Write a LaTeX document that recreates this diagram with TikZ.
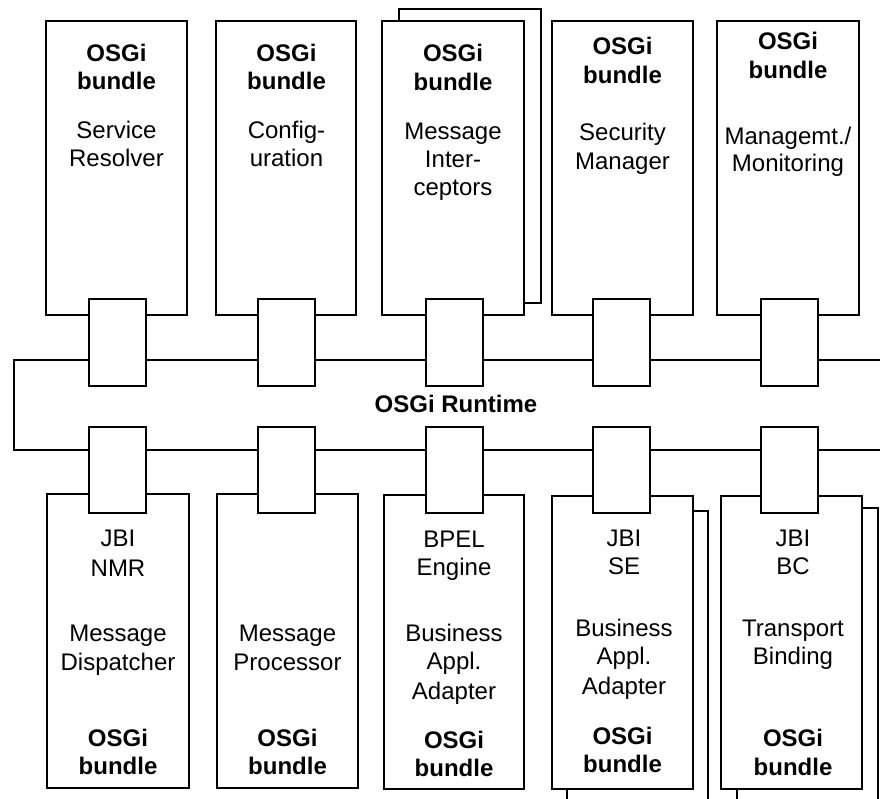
\documentclass[tikz,border=0pt]{standalone}
\usepackage{fontspec}
\setmainfont{Liberation Sans}
\begin{document}
\begin{tikzpicture}[x=1pt,y=-1pt,
  bbox/.style={draw, line width=2pt, fill=white, anchor=north west, inner sep=0pt, outer sep=0pt},
  port/.style={draw, line width=2pt, fill=white, anchor=north west, minimum width=57pt, inner sep=0pt, outer sep=0pt},
  lbl/.style={anchor=base, inner sep=0pt, font=\fontsize{24}{28}\selectfont},
  blbl/.style={anchor=base, inner sep=0pt, font=\fontsize{24}{28}\selectfont\bfseries},
  bus/.style={line width=2pt, line join=miter}]
\useasboundingbox (0,0) rectangle (880,799);
\fill[white] (0,0) rectangle (880,799);
\clip (0,0) rectangle (880,799);

% ---------- top bundles ----------
\node[bbox, minimum width=142pt, minimum height=294pt] (t3s) at (399,9) {};
\node[bbox, minimum width=141pt, minimum height=294pt] (t1) at (46,21) {};
\node[bbox, minimum width=140pt, minimum height=294pt] (t2) at (216,21) {};
\node[bbox, minimum width=142pt, minimum height=294pt] (t3) at (382,21) {};
\node[bbox, minimum width=141pt, minimum height=294pt] (t4) at (552,21) {};
\node[bbox, minimum width=142pt, minimum height=294pt] (t5) at (717,21) {};

% ---------- bottom bundles ----------
\node[bbox, minimum width=141pt, minimum height=300pt] (b4s) at (567,511) {};
\node[bbox, minimum width=141pt, minimum height=300pt] (b5s) at (737,508) {};
\node[bbox, minimum width=142pt, minimum height=294pt] (b1) at (47,494) {};
\node[bbox, minimum width=141pt, minimum height=294pt] (b2) at (217,494) {};
\node[bbox, minimum width=140pt, minimum height=294pt] (b3) at (384,495) {};
\node[bbox, minimum width=141pt, minimum height=293pt] (b4) at (552,496) {};
\node[bbox, minimum width=141pt, minimum height=293pt] (b5) at (721,496) {};

% ---------- OSGi runtime bus ----------
\coordinate (busTR) at (890,360);
\coordinate (busTL) at (14,360);
\coordinate (busBL) at (14,450);
\coordinate (busBR) at (890,450);
\draw[bus] (busTR) -- (busTL) -- (busBL) -- (busBR);
\node[blbl] (rt) at (456,412) {OSGi Runtime};

% ---------- ports ----------
\node[port, minimum height=87pt] (tp1) at (89,299) {};
\node[port, minimum height=87pt] (tp2) at (258,299) {};
\node[port, minimum height=87pt] (tp3) at (426,299) {};
\node[port, minimum height=87pt] (tp4) at (593,299) {};
\node[port, minimum height=87pt] (tp5) at (761,299) {};
\node[port, minimum height=86pt] (bp1) at (89,427) {};
\node[port, minimum height=86pt] (bp2) at (258,427) {};
\node[port, minimum height=86pt] (bp3) at (426,427) {};
\node[port, minimum height=86pt] (bp4) at (593,427) {};
\node[port, minimum height=86pt] (bp5) at (761,427) {};

% ---------- top labels ----------
\node[blbl] (t1a) at (116.5,62) {OSGi};
\node[blbl] (t1b) at (116.5,90) {bundle};
\node[lbl]  (t1c) at (116.5,139) {Service};
\node[lbl]  (t1d) at (116.5,167) {Resolver};

\node[blbl] (t2a) at (286.5,62) {OSGi};
\node[blbl] (t2b) at (286.5,90) {bundle};
\node[lbl]  (t2c) at (286.5,139) {Config-};
\node[lbl]  (t2d) at (286.5,167) {uration};

\node[blbl] (t3a) at (453,62) {OSGi};
\node[blbl] (t3b) at (453,91) {bundle};
\node[lbl]  (t3c) at (453,140) {Message};
\node[lbl]  (t3d) at (453,168) {Inter-};
\node[lbl]  (t3e) at (453,196) {ceptors};

\node[blbl] (t4a) at (622.5,55) {OSGi};
\node[blbl] (t4b) at (622.5,84) {bundle};
\node[lbl]  (t4c) at (622.5,141) {Security};
\node[lbl]  (t4d) at (622.5,170) {Manager};

\node[blbl] (t5a) at (788,50) {OSGi};
\node[blbl] (t5b) at (788,79) {bundle};
\node[lbl]  (t5c) at (788,145) {Managemt./};
\node[lbl]  (t5d) at (788,172) {Monitoring};

% ---------- bottom labels ----------
\node[lbl]  (b1a) at (118,546) {JBI};
\node[lbl]  (b1b) at (118,576) {NMR};
\node[lbl]  (b1c) at (118,641) {Message};
\node[lbl]  (b1d) at (118,670) {Dispatcher};
\node[blbl] (b1e) at (118,746) {OSGi};
\node[blbl] (b1f) at (118,774) {bundle};

\node[lbl]  (b2c) at (287.5,641) {Message};
\node[lbl]  (b2d) at (287.5,670) {Processor};
\node[blbl] (b2e) at (287.5,746) {OSGi};
\node[blbl] (b2f) at (287.5,774) {bundle};

\node[lbl]  (b3a) at (454,547) {BPEL};
\node[lbl]  (b3b) at (454,575) {Engine};
\node[lbl]  (b3c) at (454,641) {Business};
\node[lbl]  (b3d) at (454,669) {Appl.};
\node[lbl]  (b3e) at (454,699) {Adapter};
\node[blbl] (b3f) at (454,748) {OSGi};
\node[blbl] (b3g) at (454,776) {bundle};

\node[lbl]  (b4a) at (624,546) {JBI};
\node[lbl]  (b4b) at (624,574) {SE};
\node[lbl]  (b4c) at (624,636) {Business};
\node[lbl]  (b4d) at (624,664) {Appl.};
\node[lbl]  (b4e) at (624,694) {Adapter};
\node[blbl] (b4f) at (622.5,744) {OSGi};
\node[blbl] (b4g) at (622.5,772) {bundle};

\node[lbl]  (b5a) at (793,546) {JBI};
\node[lbl]  (b5b) at (793,574) {BC};
\node[lbl]  (b5c) at (793,636) {Transport};
\node[lbl]  (b5d) at (793,664) {Binding};
\node[blbl] (b5e) at (793,746) {OSGi};
\node[blbl] (b5f) at (793,775) {bundle};
\end{tikzpicture}
\end{document}
